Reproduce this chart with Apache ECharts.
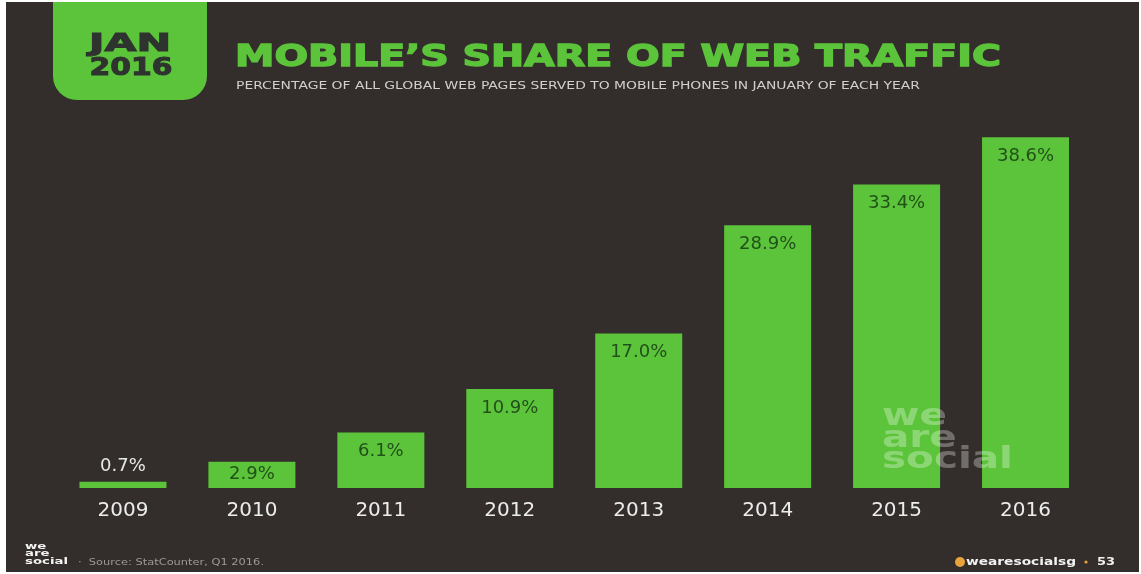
<!DOCTYPE html>
<html>
<head>
<meta charset="utf-8">
<script src="https://cdn.jsdelivr.net/npm/echarts@6/dist/echarts.min.js"></script>
<style>
  html, body { margin: 0; padding: 0; background: #ffffff; }
  #chart { width: 1141px; height: 574px; }
</style>
</head>
<body>
<div id="chart"></div>
<script>
// Mobile share of web traffic, January of each year (%)
const years = ['2009', '2010', '2011', '2012', '2013', '2014', '2015', '2016'];
const shares = [0.7, 2.9, 6.1, 10.9, 17.0, 28.9, 33.4, 38.6];

const titleText = 'MOBILE\u2019S SHARE OF WEB TRAFFIC';
const subtitleText = 'PERCENTAGE OF ALL GLOBAL WEB PAGES SERVED TO MOBILE PHONES IN JANUARY OF EACH YEAR';
const badgeLines = ['JAN', '2016'];
const brandLines = ['we', 'are', 'social'];
const sourceText = '\u00B7  Source: StatCounter, Q1 2016.';
const handleText = 'wearesocialsg';
const pageNumber = '53';

const BG = '#332e2c';
const GREEN = '#5cc43a';
const LABEL_DARK = '#22501a';

// horizontal stretch needed for a string to span a given width
const measureCtx = document.createElement('canvas').getContext('2d');
function stretch(text, font, width) {
  measureCtx.font = font;
  return width / measureCtx.measureText(text).width;
}

const titleFont = 'bold 30px "DejaVu Sans"';
const subFont = '10px "DejaVu Sans"';
const badgeFont = 'bold 24px "DejaVu Sans"';
const markFont = 'bold 30px "DejaVu Sans"';
const smallMarkFont = 'bold 9px "DejaVu Sans"';
const sourceFont = '9px "DejaVu Sans"';
const handleFont = 'bold 11px "DejaVu Sans"';

const chart = echarts.init(document.getElementById('chart'), null, { renderer: 'canvas' });

const graphics = [
  // dark page panel
  { type: 'rect', z: -10, shape: { x: 6, y: 2, width: 1133, height: 570 }, style: { fill: BG } },
  // date badge
  { type: 'rect', z: -5, shape: { x: 53, y: 2, width: 154, height: 98, r: [0, 0, 24, 24] }, style: { fill: GREEN } },
  {
    type: 'text', x: 130, y: 45, scaleX: stretch(badgeLines[0], badgeFont, 82),
    style: { text: badgeLines[0], font: badgeFont, fill: '#2f3330', stroke: '#2f3330', lineWidth: 1, textAlign: 'center', textVerticalAlign: 'middle' }
  },
  {
    type: 'text', x: 131, y: 69, scaleX: stretch(badgeLines[1], badgeFont, 83),
    style: { text: badgeLines[1], font: badgeFont, fill: '#2f3330', stroke: '#2f3330', lineWidth: 1, textAlign: 'center', textVerticalAlign: 'middle' }
  },
  // heading
  {
    type: 'text', x: 235, y: 58, scaleX: stretch(titleText, titleFont, 766),
    style: { text: titleText, font: titleFont, fill: GREEN, stroke: GREEN, lineWidth: 1.4, textAlign: 'left', textVerticalAlign: 'middle' }
  },
  {
    type: 'text', x: 236, y: 86, scaleX: stretch(subtitleText, subFont, 684),
    style: { text: subtitleText, font: subFont, fill: '#d2d0ce', textAlign: 'left', textVerticalAlign: 'middle' }
  },
  // footer: source
  {
    type: 'text', x: 78, y: 563, scaleX: stretch(sourceText, sourceFont, 186),
    style: { text: sourceText, font: sourceFont, fill: '#9e9896', textAlign: 'left', textVerticalAlign: 'middle' }
  },
  // footer: handle and page number
  {
    type: 'circle', shape: { cx: 960, cy: 562, r: 5 }, style: { fill: '#e8a33a' }
  },
  {
    type: 'text', x: 966, y: 562, scaleX: stretch(handleText, handleFont, 110),
    style: { text: handleText, font: handleFont, fill: '#f2f2f2', textAlign: 'left', textVerticalAlign: 'middle' }
  },
  {
    type: 'circle', shape: { cx: 1086, cy: 562, r: 1.6 }, style: { fill: '#e8a33a' }
  },
  {
    type: 'text', x: 1097, y: 562, scaleX: stretch(pageNumber, handleFont, 18),
    style: { text: pageNumber, font: handleFont, fill: '#f2f2f2', textAlign: 'left', textVerticalAlign: 'middle' }
  }
];

// large translucent brand mark over the chart
const markY = [417, 439, 460];
brandLines.forEach((line, i) => {
  graphics.push({
    type: 'text', z: 100, x: 882, y: markY[i], scaleX: stretch(brandLines[2], markFont, 131),
    style: { text: line, font: markFont, fill: 'rgba(255,255,255,0.3)', textAlign: 'left', textVerticalAlign: 'middle' }
  });
});
// small brand mark in the footer
const smallY = [547, 554, 562];
brandLines.forEach((line, i) => {
  graphics.push({
    type: 'text', x: 25, y: smallY[i], scaleX: stretch(brandLines[2], smallMarkFont, 43),
    style: { text: line, font: smallMarkFont, fill: '#f4f4f4', textAlign: 'left', textVerticalAlign: 'middle' }
  });
});

const barData = shares.map((v, i) => {
  const item = { value: v };
  if (i === 0) {
    item.label = { position: 'top', distance: 6, color: '#e8e8e8' };
  } else if (i === 1) {
    item.label = { position: 'inside' };
  }
  return item;
});

chart.setOption({
  backgroundColor: '#ffffff',
  animation: false,
  graphic: graphics,
  grid: { left: 58.5, right: 51, top: 124.4, bottom: 86 },
  xAxis: {
    type: 'category',
    data: years,
    axisLine: { show: false },
    axisTick: { show: false },
    axisLabel: { color: '#ececec', fontFamily: 'DejaVu Sans', fontSize: 20, margin: 13 }
  },
  yAxis: {
    type: 'value',
    min: 0,
    max: 40,
    show: false,
    splitLine: { show: false }
  },
  series: [{
    type: 'bar',
    data: barData,
    barWidth: 87,
    itemStyle: { color: GREEN },
    label: {
      show: true,
      position: 'insideTop',
      distance: 10,
      color: LABEL_DARK,
      fontFamily: 'DejaVu Sans',
      fontSize: 18,
      formatter: p => p.value.toFixed(1) + '%'
    }
  }]
});
</script>
</body>
</html>
